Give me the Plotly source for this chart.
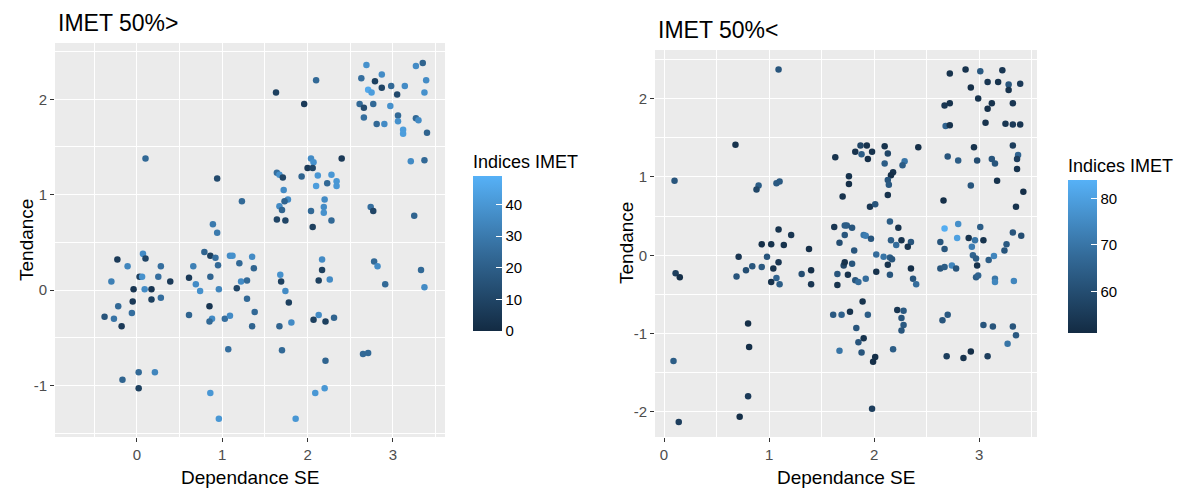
import plotly.graph_objects as go

# ---------------- Left panel: IMET 50%> ----------------
left_x = [0.10, 0.94, 1.23, 0.89, 0.94, 0.07, 0.10, -0.23, -0.11, 0.28, -0.30, 0.03, 0.06, 0.25, 0.39,
          -0.04, 0.09, 0.17, -0.05, 0.17, 0.28, -0.22, -0.06, -0.38, -0.27, -0.18, 0.02, 0.21, -0.17, 0.02,
          0.86, 0.96, 0.79, 0.86, 0.92, 0.95, 0.66, 1.09, 1.12, 1.20, 0.61, 0.86, 0.69, 0.74, 0.96,
          1.17, 1.22, 1.29, 1.29, 0.85, 0.61, 0.88, 0.85, 1.03, 1.09, 1.07, 1.35, 1.37, 1.38, 1.35,
          1.63, 1.96, 2.10, 2.04, 2.07, 2.00, 2.06, 2.40, 1.64, 1.67, 1.71, 1.93, 2.12, 2.28, 2.23,
          2.34, 2.34, 2.10, 1.72, 2.20, 1.77, 1.73, 1.67, 1.70, 2.19, 2.04, 2.19, 1.64, 1.74, 2.28, 2.06,
          2.69, 2.87, 2.63, 2.79, 2.71, 2.75, 2.87, 2.98, 3.14, 3.05, 3.27, 3.35, 3.39, 3.37, 2.61,
          2.66, 2.77, 2.97, 2.66, 2.81, 2.90, 3.06, 3.06, 3.27, 3.30, 3.12, 3.12, 3.40, 3.21, 3.37,
          2.74, 2.77, 3.25, 1.68, 1.69, 1.74, 1.78, 1.81, 1.67, 1.70, 2.17, 2.17, 2.13, 2.26, 2.13,
          2.07, 2.21, 2.31, 2.21, 2.09, 2.20, 1.86, 2.78, 2.82, 2.91, 3.33, 3.37, 2.65, 2.71]
left_y = [1.38, 1.17, 0.93, 0.69, 0.60, 0.38, 0.33, 0.32, 0.25, 0.25, 0.09, 0.14, 0.14, 0.14, 0.09,
          0.01, 0.01, 0.01, -0.12, -0.10, -0.08, -0.17, -0.24, -0.28, -0.30, -0.38, -0.86, -0.86, -0.94, -1.03,
          -1.08, -1.35, 0.40, 0.36, 0.34, 0.26, 0.25, 0.36, 0.36, 0.28, 0.13, 0.14, 0.06, -0.01, 0.01,
          0.02, 0.09, 0.10, -0.09, -0.17, -0.26, -0.30, -0.33, -0.30, -0.27, -0.62, 0.35, 0.23, -0.23, -0.38,
          2.07, 1.95, 2.20, 1.38, 1.34, 1.28, 1.28, 1.38, 1.23, 1.21, 1.18, 1.19, 1.20, 1.21, 1.12,
          1.14, 1.09, 1.09, 1.05, 0.95, 0.95, 0.93, 0.88, 0.84, 0.87, 0.83, 0.81, 0.74, 0.73, 0.73, 0.66,
          2.36, 2.26, 2.22, 2.19, 2.10, 2.07, 2.12, 2.14, 2.14, 2.05, 2.35, 2.38, 2.20, 2.07, 1.95,
          1.91, 1.95, 1.93, 1.81, 1.74, 1.74, 1.83, 1.77, 1.80, 1.78, 1.68, 1.64, 1.65, 1.35, 1.36,
          0.87, 0.83, 0.78, 0.16, 0.09, -0.01, -0.13, -0.34, -0.38, -0.63, 0.32, 0.21, 0.10, 0.11, -0.26,
          -0.31, -0.33, -0.29, -0.74, -1.08, -1.03, -1.35, 0.30, 0.25, 0.06, 0.21, 0.03, -0.67, -0.66]
left_imet = [24, 12, 24, 30, 30, 36, 10, 6, 34, 26, 32, 8, 38, 26, 6,
             4, 36, 4, 6, 8, 26, 24, 26, 16, 28, 6, 24, 34, 22, 8,
             40, 40, 22, 8, 26, 24, 32, 36, 38, 24, 6, 22, 36, 38, 34,
             10, 36, 24, 24, 4, 22, 36, 24, 26, 36, 26, 36, 22, 24, 22,
             8, 6, 24, 36, 38, 6, 10, 6, 26, 38, 10, 22, 40, 40, 24,
             40, 40, 42, 36, 36, 36, 22, 36, 22, 36, 24, 38, 10, 10, 24, 8,
             38, 36, 26, 8, 46, 42, 10, 24, 36, 12, 36, 22, 36, 38, 24,
             12, 24, 38, 26, 24, 36, 24, 38, 24, 36, 42, 42, 22, 36, 24,
             26, 10, 22, 38, 8, 36, 8, 36, 22, 24, 36, 8, 8, 36, 36,
             8, 8, 22, 22, 40, 40, 40, 24, 36, 24, 24, 36, 24, 24]

# ---------------- Right panel: IMET 50%< ----------------
right_x = [1.09, 0.68, 1.63, 0.10, 0.90, 0.88, 1.07, 1.10, 1.70, 1.09, 1.21, 0.93, 1.02, 1.14, 1.38,
           1.62, 1.72, 1.67, 0.71, 0.98, 1.09, 0.84, 0.78, 0.93, 1.04, 0.69, 1.07, 1.02, 1.10, 1.31,
           1.40, 1.40, 0.11, 0.15, 1.65, 1.65, 1.71, 1.61, 1.69, 1.67, 0.80, 0.81, 0.09, 0.80, 0.72, 0.14,
           2.72, 2.87, 3.01, 3.22, 2.92, 3.08, 3.18, 3.28, 3.28, 3.39, 2.67, 2.72, 2.99, 3.12, 3.08,
           3.32, 2.68, 2.72, 3.06, 3.25, 3.32, 3.39, 2.95, 3.32, 2.70, 2.80, 2.98, 3.12, 3.15, 3.37,
           3.36, 3.36, 2.92, 3.17, 3.42, 2.66, 3.35,
           1.87, 1.93, 1.82, 1.88, 1.98, 1.94, 2.10, 2.13, 2.42, 2.10, 2.29, 2.27, 2.18, 2.16, 1.76,
           1.76, 2.13, 2.14, 2.13, 1.96, 2.01,
           1.74, 1.79, 2.15, 2.23, 1.90, 1.92, 1.97, 1.72, 2.16, 2.26, 2.35, 2.21, 2.32, 1.81, 2.02,
           2.09, 2.15, 2.17, 1.72, 1.79, 2.13, 1.75, 1.82, 1.85, 2.02, 2.15, 1.92, 2.35, 2.37, 2.40,
           1.89, 1.77, 1.94, 1.83, 2.22, 2.28, 2.26, 2.28, 2.26, 1.90, 1.85, 1.88, 2.18, 2.01, 1.99, 1.98,
           2.67, 2.80, 2.79, 3.01, 2.90, 2.96, 3.04, 2.63, 2.67, 2.93, 2.94, 2.97, 2.98, 3.26, 3.24,
           3.32, 3.40, 3.09, 3.14, 2.63, 2.74, 2.67, 2.78, 2.97, 2.99, 3.15, 3.15, 3.33,
           2.65, 2.70, 3.04, 3.13, 3.32, 3.35, 3.27, 2.69, 2.85, 2.92, 3.08]
right_y = [2.37, 1.41, 1.25, 0.95, 0.89, 0.84, 0.92, 0.94, 0.75, 0.33, 0.26, 0.14, 0.14, 0.13, 0.08,
           0.36, 0.38, 0.16, -0.02, -0.02, -0.09, -0.14, -0.19, -0.15, -0.17, -0.27, -0.29, -0.34, -0.37, -0.24,
           -0.19, -0.37, -0.23, -0.28, -0.24, -0.38, -0.13, -0.76, -0.76, -1.22, -0.87, -1.17, -1.35, -1.80, -2.06, -2.13,
           2.32, 2.37, 2.35, 2.36, 2.14, 2.21, 2.21, 2.18, 2.11, 2.19, 1.91, 1.94, 2.00, 1.94, 1.87,
           1.94, 1.65, 1.66, 1.69, 1.68, 1.67, 1.67, 1.38, 1.40, 1.26, 1.21, 1.21, 1.23, 1.17, 1.28,
           1.23, 1.10, 0.89, 0.95, 0.81, 0.70, 0.62,
           1.40, 1.40, 1.32, 1.29, 1.32, 1.23, 1.39, 1.30, 1.38, 1.17, 1.20, 1.15, 1.06, 1.02, 1.01,
           0.91, 0.96, 0.90, 0.77, 0.62, 0.65,
           0.38, 0.35, 0.43, 0.35, 0.26, 0.25, 0.21, 0.26, 0.19, 0.19, 0.17, 0.13, 0.11, 0.06, 0.01,
           -0.02, -0.03, -0.05, -0.09, -0.11, -0.12, -0.25, -0.32, -0.34, -0.21, -0.25, -0.30, -0.17, -0.30, -0.37,
           -0.59, -0.72, -0.76, -0.93, -0.70, -0.71, -0.80, -0.89, -0.96, -1.06, -1.11, -1.24, -1.20, -1.30, -1.36, -1.96,
           0.34, 0.40, 0.22, 0.36, 0.22, 0.19, 0.19, 0.17, 0.08, 0.11, 0.00, -0.04, -0.13, 0.14, 0.06,
           0.29, 0.25, -0.06, -0.01, -0.17, -0.13, -0.15, -0.17, -0.28, -0.26, -0.30, -0.34, -0.33,
           -0.83, -0.76, -0.89, -0.91, -0.91, -1.02, -1.13, -1.29, -1.31, -1.23, -1.29]
right_imet = [62, 53, 53, 62, 64, 58, 63, 63, 53, 53, 54, 52, 53, 53, 52,
              54, 64, 60, 54, 62, 54, 62, 60, 63, 53, 62, 66, 53, 64, 60,
              52, 54, 56, 52, 62, 53, 58, 63, 65, 70, 52, 52, 64, 55, 52, 56,
              53, 53, 63, 54, 52, 54, 53, 62, 53, 55, 54, 53, 53, 53, 52,
              54, 66, 53, 53, 54, 55, 54, 53, 56, 62, 64, 60, 62, 62, 66,
              56, 53, 62, 53, 52, 52, 53,
              58, 53, 53, 64, 53, 52, 53, 58, 52, 64, 70, 64, 53, 52, 53,
              52, 62, 63, 53, 54, 62,
              64, 62, 64, 53, 70, 72, 62, 62, 64, 53, 62, 68, 53, 62, 68,
              70, 64, 62, 53, 62, 53, 53, 62, 68, 53, 62, 68, 52, 62, 68,
              53, 53, 64, 62, 54, 63, 62, 63, 62, 53, 62, 62, 64, 52, 52, 56,
              83, 76, 80, 64, 53, 70, 53, 62, 62, 72, 66, 64, 53, 63, 62,
              62, 60, 64, 74, 62, 74, 64, 62, 64, 66, 70, 74, 74,
              62, 63, 62, 62, 62, 63, 70, 56, 53, 52, 56]

# tick labels
left_xticks = [0, 1, 2, 3]
left_yticks = [-1, 0, 1, 2]
right_xticks = [0, 1, 2, 3]
right_yticks = [-2, -1, 0, 1, 2]
left_cbar_ticks = [0, 10, 20, 30, 40]
right_cbar_ticks = [60, 70, 80]

W, H = 1178, 488
FONT = "Liberation Sans, Arial, sans-serif"
scale = [[0, "#132B43"], [0.5, "#336A98"], [1, "#56B1F7"]]


def px_x(p):
    return p / W


def px_y(p):
    return 1 - p / H


def labels(vals):
    return [str(v) for v in vals]


fig = go.Figure()
fig.add_trace(go.Scatter(x=left_x, y=left_y, mode="markers", xaxis="x", yaxis="y",
                         marker=dict(size=6.5, color=left_imet, coloraxis="coloraxis"),
                         showlegend=False, hoverinfo="x+y"))
fig.add_trace(go.Scatter(x=right_x, y=right_y, mode="markers", xaxis="x2", yaxis="y2",
                         marker=dict(size=6.5, color=right_imet, coloraxis="coloraxis2"),
                         showlegend=False, hoverinfo="x+y"))

axis_common = dict(showgrid=True, gridcolor="white", gridwidth=1.3, zeroline=False, showline=False,
                   ticks="outside", ticklen=4, tickwidth=1, tickcolor="#333333",
                   tickfont=dict(family=FONT, size=15, color="#4D4D4D"),
                   minor=dict(dtick=0.5, showgrid=True, gridcolor="white", gridwidth=0.6, ticks=""),
                   fixedrange=True)

TITLE_ROOM = 30


def cbar(x0, ytop, ybot, ticks, title_text):
    top = ytop - TITLE_ROOM
    return dict(title=dict(text=title_text, side="top", font=dict(family=FONT, size=18, color="black")),
                x=px_x(x0), xanchor="left", xpad=0,
                y=px_y((top + ybot) / 2), yanchor="middle", ypad=0,
                len=ybot - top, lenmode="pixels", thickness=29, thicknessmode="pixels",
                outlinewidth=0, ticks="inside", ticklen=6, tickwidth=1, tickcolor="white",
                tickvals=ticks, ticktext=labels(ticks),
                tickfont=dict(family=FONT, size=15, color="black"))


fig.update_layout(
    width=W, height=H,
    margin=dict(l=0, r=0, t=0, b=0),
    paper_bgcolor="white", plot_bgcolor="#EBEBEB",
    font=dict(family=FONT, color="black"),
    xaxis=dict(domain=[px_x(55), px_x(445)], range=[-0.961, 3.611], tickvals=left_xticks,
               ticktext=labels(left_xticks), anchor="y", **axis_common),
    yaxis=dict(domain=[px_y(437), px_y(43)], range=[-1.54, 2.59], tickvals=left_yticks,
               ticktext=labels(left_yticks), anchor="x", **axis_common),
    xaxis2=dict(domain=[px_x(655), px_x(1037)], range=[-0.086, 3.55], tickvals=right_xticks,
                ticktext=labels(right_xticks), anchor="y2", **axis_common),
    yaxis2=dict(domain=[px_y(437), px_y(50)], range=[-2.32, 2.62], tickvals=right_yticks,
                ticktext=labels(right_yticks), anchor="x2", **axis_common),
    coloraxis=dict(cmin=0, cmax=49, colorscale=scale,
                   colorbar=cbar(473, 181, 331, left_cbar_ticks, "Indices IMET")),
    coloraxis2=dict(cmin=51, cmax=84, colorscale=scale,
                    colorbar=cbar(1068, 185, 333, right_cbar_ticks, "Indices IMET")),
)

annots = [
    dict(text="IMET 50%>", x=px_x(56), y=px_y(23), xanchor="left", yanchor="middle",
         font=dict(size=23, color="black")),
    dict(text="IMET 50%<", x=px_x(656), y=px_y(30), xanchor="left", yanchor="middle",
         font=dict(size=23, color="black")),
    dict(text="Dependance SE", x=px_x(250), y=px_y(477), xanchor="center", yanchor="middle",
         font=dict(size=19, color="black")),
    dict(text="Dependance SE", x=px_x(846), y=px_y(477), xanchor="center", yanchor="middle",
         font=dict(size=19, color="black")),
    dict(text="Tendance", x=px_x(26), y=px_y(240), xanchor="center", yanchor="middle", textangle=-90,
         font=dict(size=19, color="black")),
    dict(text="Tendance", x=px_x(626), y=px_y(243), xanchor="center", yanchor="middle", textangle=-90,
         font=dict(size=19, color="black")),
]
for a in annots:
    a.update(xref="paper", yref="paper", showarrow=False)
    a["font"]["family"] = FONT
fig.update_layout(annotations=annots)

# remove the page's default 8px body margin so the figure fills the window exactly
fig.write_html("out.html",
               config={"displayModeBar": False},
               post_script="document.body.style.margin='0';document.body.style.overflow='hidden';")
